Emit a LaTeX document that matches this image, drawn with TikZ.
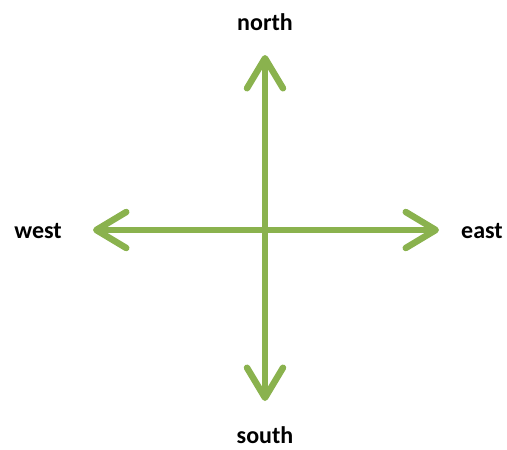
\documentclass[tikz,border=0pt]{standalone}
\usepackage{fontspec}
\setmainfont{Carlito}
\usetikzlibrary{arrows.meta}
\definecolor{compassgreen}{RGB}{138,178,78}
\tikzset{
  compass/.style={draw=compassgreen, line width=6.5pt,
    arrows={Straight Barb[length=30pt, width=36pt, line cap=round, line join=round]-Straight Barb[length=30pt, width=36pt, line cap=round, line join=round]}},
  dirlabel/.style={font=\bfseries\fontsize{24pt}{27pt}\selectfont, text=black, inner sep=0pt}
}
\begin{document}
\begin{tikzpicture}[x=1pt, y=-1pt]
  \useasboundingbox (0,0) rectangle (507,450);
  % arrow tips
  \coordinate (n) at (265,55);
  \coordinate (s) at (265,401);
  \coordinate (w) at (93,230);
  \coordinate (e) at (439,230);
  % compass arms
  \draw[compass] (w) -- (e);
  \draw[compass] (s) -- (n);
  % labels
  \node[dirlabel] (north) at (265,22) {north};
  \node[dirlabel] (south) at (265,435) {south};
  \node[dirlabel] (west) at (38,231) {west};
  \node[dirlabel] (east) at (482,231) {east};
\end{tikzpicture}
\end{document}
